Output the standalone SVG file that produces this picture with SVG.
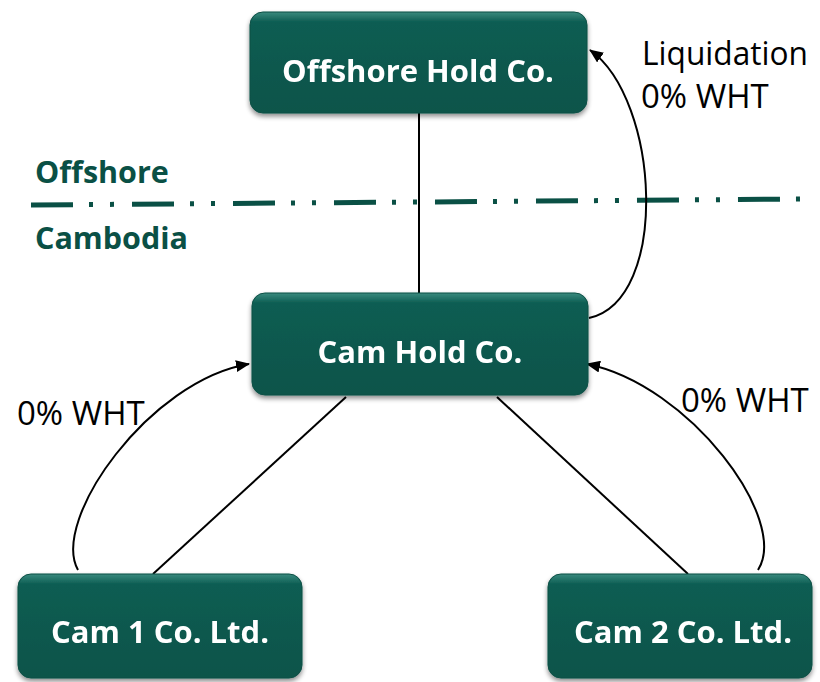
<svg xmlns="http://www.w3.org/2000/svg" width="820" height="682" viewBox="0 0 820 682">
<style>
.box{fill:url(#boxg);stroke:#0a4f45;stroke-width:1}
.bt{font-family:"Open Sans","Liberation Sans",sans-serif;font-weight:bold;font-size:31px;fill:#ffffff;text-anchor:middle}
.lbl{font-family:"Open Sans","Liberation Sans",sans-serif;font-size:33px;fill:#000000}
.zone{font-family:"Open Sans","Liberation Sans",sans-serif;font-weight:bold;font-size:30.5px;fill:#0a5045}
.ln{stroke:#000;stroke-width:2;fill:none}
.arr{stroke:#000;stroke-width:2;fill:none;marker-end:url(#ah)}
</style>
<defs>
<linearGradient id="boxg" x1="0" y1="0" x2="0" y2="1">
<stop offset="0" stop-color="#3a8a7e"/>
<stop offset="0.1" stop-color="#0d5d52"/>
<stop offset="1" stop-color="#07544a"/>
</linearGradient>
<filter id="sh" x="-10%" y="-10%" width="120%" height="130%">
<feGaussianBlur in="SourceAlpha" stdDeviation="2.5"/>
<feOffset dx="0" dy="3" result="b"/>
<feComponentTransfer><feFuncA type="linear" slope="0.45"/></feComponentTransfer>
<feMerge><feMergeNode/><feMergeNode in="SourceGraphic"/></feMerge>
</filter>
<marker id="ah" viewBox="0 0 14 12" refX="13" refY="6" markerWidth="14" markerHeight="12" markerUnits="userSpaceOnUse" orient="auto">
<path d="M0,0 L14,6 L0,12 Z" fill="#000"/>
</marker>
</defs>

<g id="boundary">
<line x1="31" y1="205" x2="808" y2="199" stroke="#0a5045" stroke-width="5" stroke-dasharray="42 16 4 17 4 18"/>
<text class="zone" x="35" y="183">Offshore</text>
<text class="zone" x="35" y="249">Cambodia</text>
</g>

<g id="connectors">
<line class="ln" x1="419" y1="113" x2="419" y2="293"/>
<line class="ln" x1="346" y1="397" x2="153" y2="574"/>
<line class="ln" x1="497" y1="397" x2="688" y2="574"/>
<path class="arr" d="M589,318 C670,300 660,100 590,50"/>
<path class="arr" d="M78,570 C50,520 150,380 249,364"/>
<path class="arr" d="M758,570 C790,520 690,385 587,364"/>
<text class="lbl" x="642" y="65" textLength="166" lengthAdjust="spacingAndGlyphs">Liquidation</text>
<text class="lbl" x="641" y="108">0% WHT</text>
<text class="lbl" x="17" y="425">0% WHT</text>
<text class="lbl" x="681" y="412">0% WHT</text>
</g>

<g id="offshore-hold" filter="url(#sh)">
<rect class="box" x="250" y="12" width="337" height="101" rx="13"/>
<text class="bt" x="418" y="82">Offshore Hold Co.</text>
</g>
<g id="cam-hold" filter="url(#sh)">
<rect class="box" x="252" y="293" width="336" height="102" rx="13"/>
<text class="bt" x="420" y="363">Cam Hold Co.</text>
</g>
<g id="cam1" filter="url(#sh)">
<rect class="box" x="18" y="574" width="284" height="104" rx="13"/>
<text class="bt" x="160" y="643">Cam 1 Co. Ltd.</text>
</g>
<g id="cam2" filter="url(#sh)">
<rect class="box" x="548" y="574" width="264" height="104" rx="13"/>
<text class="bt" x="683" y="643">Cam 2 Co. Ltd.</text>
</g>
</svg>
